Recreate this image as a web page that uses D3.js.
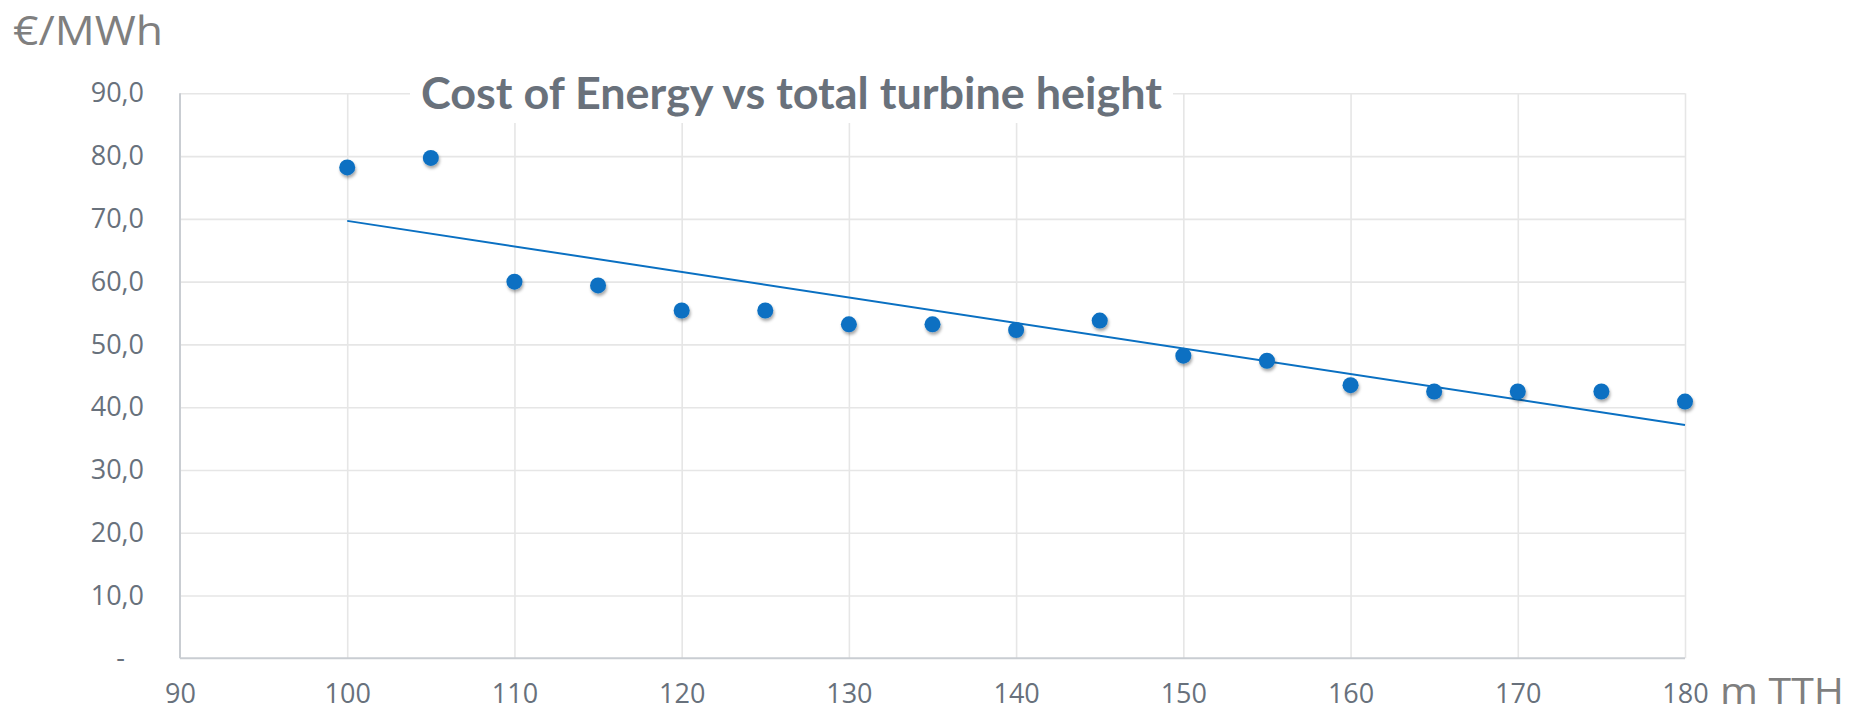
<!DOCTYPE html>
<html>
<head>
<meta charset="utf-8">
<script src="https://cdn.jsdelivr.net/npm/d3@7"></script>
<style>
  html, body { margin: 0; padding: 0; background: #fff; }
  svg { display: block; }
</style>
</head>
<body>
<div id="chart"></div>
<script>
// Data
const heights = [100, 105, 110, 115, 120, 125, 130, 135, 140, 145, 150, 155, 160, 165, 170, 175, 180];
const costs = [78.2, 79.7, 60.0, 59.4, 55.4, 55.4, 53.2, 53.2, 52.3, 53.8, 48.2, 47.4, 43.5, 42.5, 42.5, 42.5, 40.9];
const xTicks = [90, 100, 110, 120, 130, 140, 150, 160, 170, 180];
const yTicks = [0, 10, 20, 30, 40, 50, 60, 70, 80, 90];
const title = "Cost of Energy vs total turbine height";
const yUnit = "€/MWh";
const xUnit = "m TTH";

const width = 1853;
const height = 714;

const plot = { left: 180, right: 1685, top: 93.3, bottom: 658.3 };

const tickColor = "#68717c";
const unitColor = "#7f7f7f";
const dotColor = "#0a70c2";

const euro = d3.formatLocale({ decimal: ",", thousands: ".", grouping: [3], currency: ["", " €"] });
const fmt1 = euro.format(".1f");

const points = heights.map((h, i) => ({ x: h, y: costs[i] }));

// Linear trendline (least squares), like Excel's
function linearFit(pts) {
  const mx = d3.mean(pts, (d) => d.x);
  const my = d3.mean(pts, (d) => d.y);
  const num = d3.sum(pts, (d) => (d.x - mx) * (d.y - my));
  const den = d3.sum(pts, (d) => (d.x - mx) ** 2);
  const slope = num / den;
  return (x) => my + slope * (x - mx);
}

function drawChart() {
  const svg = d3
    .select("#chart")
    .append("svg")
    .attr("width", width)
    .attr("height", height);

  const defs = svg.append("defs");
  const shadow = defs.append("filter").attr("id", "shadow")
    .attr("x", "-50%").attr("y", "-50%").attr("width", "200%").attr("height", "200%");
  shadow.append("feDropShadow")
    .attr("dx", 1).attr("dy", 2.5).attr("stdDeviation", 1.8)
    .attr("flood-color", "#000").attr("flood-opacity", 0.35);

  const xScale = d3.scaleLinear().domain([90, 180]).range([plot.left, plot.right]);
  const yScale = d3.scaleLinear().domain([0, 90]).range([plot.bottom, plot.top]);

  // Gridlines
  const grid = svg.append("g").attr("class", "grid");
  grid.append("g")
    .attr("transform", `translate(${plot.left},0)`)
    .call(d3.axisLeft(yScale).tickValues(yTicks.filter((d) => d > 0)).tickFormat("").tickSize(-(plot.right - plot.left)))
    .call((g) => g.select(".domain").remove())
    .selectAll("line").attr("stroke", "#e6e6e6").attr("stroke-width", 1.6);
  grid.append("g")
    .attr("transform", `translate(0,${plot.bottom})`)
    .call(d3.axisBottom(xScale).tickValues(xTicks.filter((d) => d > 90)).tickFormat("").tickSize(-(plot.bottom - plot.top)))
    .call((g) => g.select(".domain").remove())
    .selectAll("line").attr("stroke", "#e6e6e6").attr("stroke-width", 1.6);

  // Axis lines
  svg.append("line")
    .attr("x1", plot.left).attr("x2", plot.left)
    .attr("y1", plot.top).attr("y2", plot.bottom)
    .attr("stroke", "#c9cdd2").attr("stroke-width", 2);
  svg.append("line")
    .attr("x1", plot.left).attr("x2", plot.right)
    .attr("y1", plot.bottom).attr("y2", plot.bottom)
    .attr("stroke", "#c9cdd2").attr("stroke-width", 2);

  // Tick labels
  const yAxis = svg.append("g")
    .attr("transform", `translate(${plot.left - 36},0)`)
    .call(d3.axisLeft(yScale).tickValues(yTicks).tickSize(0).tickPadding(0)
      .tickFormat((d) => (d === 0 ? "-" : fmt1(d))));
  yAxis.select(".domain").remove();
  yAxis.selectAll("text")
    .attr("font-family", "'Open Sans', sans-serif")
    .attr("font-size", 27)
    .attr("fill", tickColor)
    .attr("dx", (d) => (d === 0 ? -19 : 0));

  const xAxis = svg.append("g")
    .attr("transform", `translate(0,${plot.bottom})`)
    .call(d3.axisBottom(xScale).tickValues(xTicks).tickSize(0).tickPadding(26));
  xAxis.select(".domain").remove();
  xAxis.selectAll("text")
    .attr("font-family", "'Open Sans', sans-serif")
    .attr("font-size", 27)
    .attr("fill", tickColor);

  // Trendline
  const fit = linearFit(points);
  const [x0, x1] = d3.extent(heights);
  svg.append("path")
    .datum([x0, x1])
    .attr("d", d3.line().x((d) => xScale(d)).y((d) => yScale(fit(d))))
    .attr("fill", "none")
    .attr("stroke", "#0a70c2")
    .attr("stroke-width", 2);

  // Dots
  svg.append("g")
    .selectAll("circle")
    .data(points)
    .join("circle")
    .attr("cx", (d) => xScale(d.x))
    .attr("cy", (d) => yScale(d.y))
    .attr("r", 8)
    .attr("fill", dotColor)
    .attr("filter", "url(#shadow)");

  // Title on a white box that hides the grid behind it
  svg.append("rect")
    .attr("x", 410).attr("y", 60)
    .attr("width", 763).attr("height", 63)
    .attr("fill", "#fff");
  svg.append("text")
    .attr("x", 421).attr("y", 109)
    .attr("font-family", "Lato, 'Open Sans', sans-serif")
    .attr("font-weight", 700)
    .attr("font-size", 43)
    .attr("textLength", 741)
    .attr("lengthAdjust", "spacingAndGlyphs")
    .attr("fill", "#69717b")
    .text(title);

  // Unit labels
  svg.append("text")
    .attr("x", 13).attr("y", 45)
    .attr("font-family", "'Open Sans', sans-serif")
    .attr("font-size", 40)
    .attr("textLength", 150)
    .attr("lengthAdjust", "spacingAndGlyphs")
    .attr("fill", unitColor)
    .text(yUnit);
  svg.append("text")
    .attr("x", 1720).attr("y", 704)
    .attr("font-family", "'Open Sans', sans-serif")
    .attr("font-size", 37)
    .attr("textLength", 124)
    .attr("lengthAdjust", "spacingAndGlyphs")
    .attr("fill", unitColor)
    .text(xUnit);
}

drawChart();
</script>
</body>
</html>
